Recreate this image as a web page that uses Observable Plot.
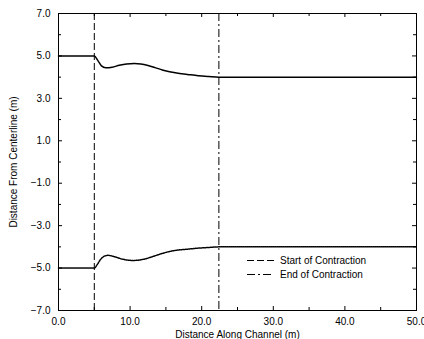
<!DOCTYPE html>
<html><head><meta charset="utf-8">
<script src="https://cdn.jsdelivr.net/npm/d3@7"></script>
<script src="https://cdn.jsdelivr.net/npm/@observablehq/plot@0.6"></script>
<style>body{margin:0;background:#fff} #chart{width:424px;height:339px}</style>
</head><body><div id="chart"></div>
<script>
// Upper wall (solid)
const upperX = [0, 5.0, 5.5, 6.0, 6.6, 7.5, 8.5, 9.5, 10.6, 11.5, 12.5, 13.5, 14.5, 15.5, 16.5, 18.0, 19.5, 21.0, 22.4, 50.0];
const upperY = [5.0, 5.0, 4.78, 4.53, 4.44, 4.47, 4.56, 4.62, 4.64, 4.62, 4.55, 4.45, 4.34, 4.25, 4.19, 4.13, 4.07, 4.03, 4.0, 4.0];
// Lower wall (dotted)
const lowerX = [0, 5.0, 5.4, 5.9, 6.4, 6.9, 7.8, 8.8, 9.8, 10.4, 11.5, 12.5, 13.5, 14.5, 15.5, 16.5, 18.0, 19.5, 21.0, 22.4, 50.0];
const lowerY = [-5.0, -5.0, -4.84, -4.58, -4.44, -4.40, -4.46, -4.57, -4.63, -4.64, -4.61, -4.53, -4.42, -4.31, -4.22, -4.16, -4.11, -4.06, -4.03, -4.0, -4.0];
const contractionX = [5.0, 22.4];
const contractionLabels = ["Start of Contraction", "End of Contraction"];
const contractionDash = ["7,3", "8,3,2,3"];
const xTicks = [0, 10, 20, 30, 40, 50];
const xMinor = [5, 15, 25, 35, 45];
const yTicks = [-7, -5, -3, -1, 1, 3, 5, 7];
const yMinor = [-6, -4, -2, 0, 2, 4, 6];

const W = 424, H = 339, mL = 58, mR = 8, mT = 13, mB = 29;
const iW = W - mL - mR, iH = H - mT - mB;
const upper = upperX.map((x, i) => ({x, y: upperY[i]}));
const lower = lowerX.map((x, i) => ({x, y: lowerY[i]}));
const fmt = d => (d < 0 ? "\u2212" : "") + Math.abs(d).toFixed(1);

const plot = Plot.plot({
  width: W, height: H,
  marginLeft: mL, marginRight: mR, marginTop: mT, marginBottom: mB,
  style: {fontFamily: "'Liberation Sans', Arial, sans-serif", fontSize: "10px", color: "black", background: "white"},
  x: {domain: [0, 50]},
  y: {domain: [-7, 7]},
  marks: [
    Plot.ruleX([contractionX[0]], {stroke: "black", strokeDasharray: contractionDash[0]}),
    Plot.ruleX([contractionX[1]], {stroke: "black", strokeDasharray: contractionDash[1]}),
    Plot.line(upper, {x: "x", y: "y", stroke: "black", curve: "monotone-x"}),
    Plot.line(lower, {x: "x", y: "y", stroke: "black", strokeDasharray: "1,1", curve: "monotone-x"}),
    Plot.tickX(xTicks, {x: d => d, insetTop: iH - 4}),
    Plot.tickX(xTicks, {x: d => d, insetBottom: iH - 4}),
    Plot.tickX(xMinor, {x: d => d, insetTop: iH - 3}),
    Plot.tickX(xMinor, {x: d => d, insetBottom: iH - 3}),
    Plot.tickY(yTicks, {y: d => d, insetRight: iW - 4}),
    Plot.tickY(yTicks, {y: d => d, insetLeft: iW - 4}),
    Plot.tickY(yMinor, {y: d => d, insetRight: iW - 3}),
    Plot.tickY(yMinor, {y: d => d, insetLeft: iW - 3}),
    Plot.axisX(xTicks, {tickSize: 0, tickPadding: 7, tickFormat: fmt, label: "Distance Along Channel (m)", labelAnchor: "center", labelArrow: "none", labelOffset: 27}),
    Plot.axisY(yTicks, {tickSize: 0, tickPadding: 8, tickFormat: fmt, label: "Distance From Centerline (m)", labelAnchor: "center", labelArrow: "none", labelOffset: 49}),
    Plot.frame({stroke: "black"})
  ]
});
document.getElementById("chart").appendChild(plot);

// Legend inside the plot area
const svg = d3.select(plot);
const lg = svg.append("g").attr("font-family", "'Liberation Sans', Arial, sans-serif").attr("font-size", 10).attr("text-anchor", "start");
contractionLabels.forEach((lab, i) => {
  const y = 260 + i * 14;
  lg.append("line").attr("x1", 247).attr("x2", 274).attr("y1", y + 0.5).attr("y2", y + 0.5)
    .attr("stroke", "black").attr("stroke-dasharray", contractionDash[i]);
  lg.append("text").attr("x", 280).attr("y", y).attr("dy", "0.35em").attr("fill", "black").text(lab);
});
</script>
</body></html>
